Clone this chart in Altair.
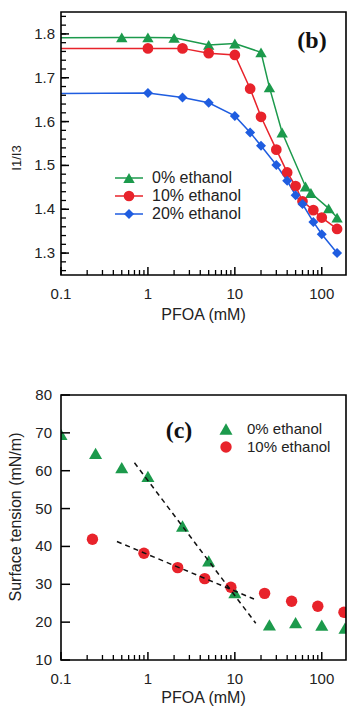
import math
import altair as alt
import pandas as pd

# ---------------- Panel (b): I1/I3 vs PFOA ----------------
series_b = ["0% ethanol", "10% ethanol", "20% ethanol"]
b_x_0 = [0.5, 1, 2, 5, 10, 20, 25, 35, 65, 75, 120, 150]
b_y_0 = [1.792, 1.792, 1.791, 1.775, 1.778, 1.758, 1.678, 1.575, 1.452, 1.437, 1.402, 1.381]
b_x_10 = [1, 2.5, 5, 10, 15, 20, 30, 40, 50, 60, 80, 100, 150]
b_y_10 = [1.767, 1.767, 1.756, 1.752, 1.675, 1.611, 1.536, 1.484, 1.453, 1.418, 1.398, 1.381, 1.355]
b_x_20 = [1, 2.5, 5, 10, 15, 20, 30, 40, 50, 60, 80, 100, 150]
b_y_20 = [1.665, 1.655, 1.643, 1.613, 1.575, 1.545, 1.501, 1.465, 1.432, 1.412, 1.371, 1.343, 1.300]
b_line_start_x = 0.1
b_line_start_y = [1.791, 1.767, 1.664]

# ---------------- Panel (c): surface tension ----------------
series_c = ["0% ethanol", "10% ethanol"]
c_x_0 = [0.1, 0.25, 0.5, 1, 2.5, 5, 10, 25, 50, 100, 185]
c_y_0 = [69.6, 64.6, 60.8, 58.5, 45.4, 36.2, 27.8, 19.3, 19.9, 19.2, 18.4]
c_x_10 = [0.23, 0.9, 2.2, 4.5, 9, 22, 45, 90, 180]
c_y_10 = [41.9, 38.2, 34.4, 31.5, 29.2, 27.6, 25.5, 24.2, 22.6]
fit_x_0 = [0.70, 17.4]
fit_y_0 = [62.1, 19.7]
fit_x_10 = [0.44, 16.6]
fit_y_10 = [41.3, 26.1]

# ticks / tick labels
x_major = [0.1, 1, 10, 100]
x_minor = [m * d for d in [0.1, 1, 10] for m in range(2, 10)]
b_y_major = [1.3, 1.4, 1.5, 1.6, 1.7, 1.8]
b_y_minor = [round(1.26 + 0.02 * i, 2) for i in range(30)]
c_y_major = [10, 20, 30, 40, 50, 60, 70, 80]
x_title = "PFOA (mM)"
b_y_title = "I1/I3"
c_y_title = "Surface tension (mN/m)"

# ---------------- style ----------------
GREEN, RED, BLUE = "#1c9a4c", "#e8232b", "#1f5de0"
INK = "#222222"
FRAME = "#000000"
SANS = "Liberation Sans"
SERIF = "Liberation Serif"
W, H1, H2 = 285, 263, 265
X_DOM = [0.1, 190]
YB_DOM = [1.25, 1.85]
YC_DOM = [10, 80]

xs = alt.Scale(type="log", domain=X_DOM, nice=False)
ys_b = alt.Scale(domain=YB_DOM, nice=False, zero=False)
ys_c = alt.Scale(domain=YC_DOM, nice=False, zero=False)


def frame(w, h):
    return alt.Chart(pd.DataFrame({"f": [0]})).mark_rect(
        fillOpacity=0, stroke=FRAME, strokeWidth=1.6).encode(
        x=alt.value(0), x2=alt.value(w), y=alt.value(0), y2=alt.value(h))


def xticks(vals, h, length, width):
    return alt.Chart(pd.DataFrame({"x": vals})).mark_tick(
        color=FRAME, thickness=width, size=length, orient="vertical", opacity=1).encode(
        x=alt.X("x:Q", scale=xs, axis=None), y=alt.value(h - length / 2))


def yticks(vals, scale, length, width):
    return alt.Chart(pd.DataFrame({"v": vals})).mark_tick(
        color=FRAME, thickness=width, size=length, orient="horizontal", opacity=1).encode(
        y=alt.Y("v:Q", scale=scale, axis=None), x=alt.value(length / 2))


def xlabels(h):
    return alt.Chart(pd.DataFrame({"x": x_major})).mark_text(
        font=SANS, fontSize=15, color=INK, align="center", baseline="middle").encode(
        x=alt.X("x:Q", scale=xs, axis=None), y=alt.value(h + 19),
        text=alt.Text("x:Q", format="~g"))


def ylabels(vals, scale, fmt, dx):
    return alt.Chart(pd.DataFrame({"v": vals})).mark_text(
        font=SANS, fontSize=15, color=INK, align="right", baseline="middle").encode(
        y=alt.Y("v:Q", scale=scale, axis=None), x=alt.value(dx),
        text=alt.Text("v:Q", format=fmt))


def title_text(txt, x, y, size, angle=0):
    return alt.Chart(pd.DataFrame({"t": [txt]})).mark_text(
        font=SANS, fontSize=size, color=INK, align="center", baseline="middle", angle=angle).encode(
        x=alt.value(x), y=alt.value(y), text="t:N")


# ---------- panel (b) ----------
rows_pts, rows_line = [], []
for s, xv, yv, y0 in zip(series_b, [b_x_0, b_x_10, b_x_20], [b_y_0, b_y_10, b_y_20], b_line_start_y):
    rows_line.append({"x": b_line_start_x, "v": y0, "series": s})
    for a, b in zip(xv, yv):
        rows_pts.append({"x": a, "v": b, "series": s})
        rows_line.append({"x": a, "v": b, "series": s})
pts_b = pd.DataFrame(rows_pts)
line_b = pd.DataFrame(rows_line)

col_b = alt.Color("series:N", scale=alt.Scale(domain=series_b, range=[GREEN, RED, BLUE]), legend=None)
shp_b = alt.Shape("series:N", scale=alt.Scale(domain=series_b, range=["triangle-up", "circle", "diamond"]), legend=None)
siz_b = alt.Size("series:N", scale=alt.Scale(domain=series_b, range=[130, 100, 140]), legend=None)

Xb = alt.X("x:Q", scale=xs, axis=None)
Yb = alt.Y("v:Q", scale=ys_b, axis=None)

lines_b = alt.Chart(line_b).mark_line(strokeWidth=1.5).encode(x=Xb, y=Yb, color=col_b)
points_b = alt.Chart(pts_b).mark_point(filled=True, opacity=1, clip=True).encode(
    x=Xb, y=Yb, color=col_b, shape=shp_b, size=siz_b)

leg_b = pd.DataFrame({"series": series_b, "ly": [166, 184, 202]})
leg_b_line = alt.Chart(leg_b).mark_rule(strokeWidth=1.5).encode(
    x=alt.value(54), x2=alt.value(82), y=alt.Y("ly:Q", scale=None), color=col_b)
leg_b_pt = alt.Chart(leg_b).mark_point(filled=True, opacity=1).encode(
    x=alt.value(68), y=alt.Y("ly:Q", scale=None), color=col_b, shape=shp_b, size=siz_b)
leg_b_txt = alt.Chart(leg_b).mark_text(align="left", baseline="middle", font=SANS, fontSize=16,
                                       color=INK).encode(
    x=alt.value(91), y=alt.Y("ly:Q", scale=None), text="series:N")
tag_b = alt.Chart(pd.DataFrame({"t": ["(b)"]})).mark_text(font=SERIF, fontWeight="bold", fontSize=24,
                                                         color="#111").encode(
    x=alt.value(251), y=alt.value(29), text="t:N")

panel_b = alt.layer(lines_b, points_b,
                    xticks(x_minor, H1, 5, 1.3), xticks(x_major, H1, 8, 1.5),
                    yticks(b_y_minor, ys_b, 5, 1.3), yticks(b_y_major, ys_b, 8, 1.5),
                    frame(W, H1),
                    xlabels(H1), ylabels(b_y_major, ys_b, ".1f", -6),
                    title_text(x_title, W / 2, H1 + 40, 16),
                    title_text(b_y_title, -44, 146, 13, 270),
                    leg_b_line, leg_b_pt, leg_b_txt, tag_b).properties(width=W, height=H1)

# ---------- panel (c) ----------
rows_c = []
for s, xv, yv in zip(series_c, [c_x_0, c_x_10], [c_y_0, c_y_10]):
    for a, b in zip(xv, yv):
        rows_c.append({"x": a, "v": b, "series": s})
pts_c = pd.DataFrame(rows_c)
fit_rows = []
for k, (xv, yv) in enumerate([(fit_x_0, fit_y_0), (fit_x_10, fit_y_10)]):
    for a, b in zip(xv, yv):
        fit_rows.append({"x": a, "v": b, "fit": k})
fit_c = pd.DataFrame(fit_rows)

col_c = alt.Color("series:N", scale=alt.Scale(domain=series_c, range=[GREEN, RED]), legend=None)
shp_c = alt.Shape("series:N", scale=alt.Scale(domain=series_c, range=["triangle-up", "circle"]), legend=None)
siz_c = alt.Size("series:N", scale=alt.Scale(domain=series_c, range=[170, 130]), legend=None)

Xc = alt.X("x:Q", scale=xs, axis=None)
Yc = alt.Y("v:Q", scale=ys_c, axis=None)

points_c = alt.Chart(pts_c).mark_point(filled=True, opacity=1, clip=True).encode(
    x=Xc, y=Yc, color=col_c, shape=shp_c, size=siz_c)
fits = alt.Chart(fit_c).mark_line(color="#111", strokeWidth=1.5, strokeDash=[5, 4]).encode(
    x=Xc, y=Yc, detail="fit:N")

leg_c = pd.DataFrame({"series": series_c, "ly": [34, 52]})
leg_c_pt = alt.Chart(leg_c).mark_point(filled=True, opacity=1).encode(
    x=alt.value(165), y=alt.Y("ly:Q", scale=None), color=col_c, shape=shp_c, size=siz_c)
leg_c_txt = alt.Chart(leg_c).mark_text(align="left", baseline="middle", font=SANS, fontSize=15,
                                       color=INK).encode(
    x=alt.value(186), y=alt.Y("ly:Q", scale=None), text="series:N")
tag_c = alt.Chart(pd.DataFrame({"t": ["(c)"]})).mark_text(font=SERIF, fontWeight="bold", fontSize=24,
                                                         color="#111").encode(
    x=alt.value(118), y=alt.value(36), text="t:N")

panel_c = alt.layer(points_c, fits,
                    xticks(x_minor, H2, 5, 1.3), xticks(x_major, H2, 8, 1.5),
                    yticks(c_y_major, ys_c, 9, 1.5),
                    frame(W, H2),
                    xlabels(H2), ylabels(c_y_major, ys_c, "d", -9),
                    title_text(x_title, W / 2, H2 + 38, 16),
                    title_text(c_y_title, -45, 122, 16, 270),
                    leg_c_pt, leg_c_txt, tag_c).properties(width=W, height=H2)

chart = alt.vconcat(panel_b, panel_c, spacing=120, bounds="flush").resolve_scale(
    x="independent", y="independent", color="independent", shape="independent", size="independent"
).properties(
    padding={"left": 7, "top": 11, "right": 0, "bottom": 0},
    background="white",
).configure_view(strokeOpacity=0)

chart.save("out.html", embed_options={"renderer": "svg", "actions": False})
